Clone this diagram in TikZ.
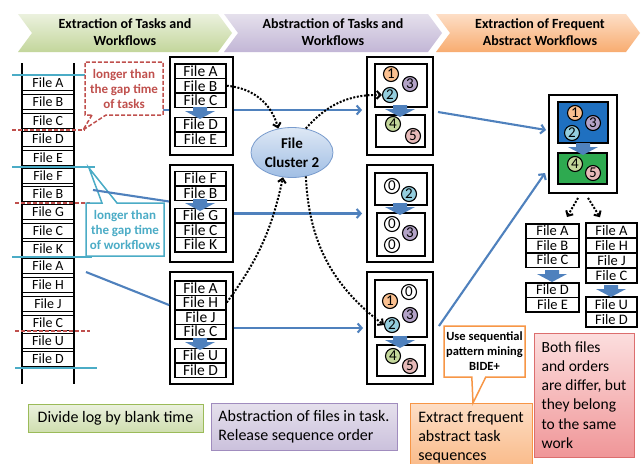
\documentclass[tikz,border=0pt]{standalone}
\usepackage{fontspec}
\setmainfont{Carlito}
\usetikzlibrary{arrows.meta,shapes.geometric,shapes.callouts}
\definecolor{tealc}{RGB}{75,172,198}
\definecolor{redc}{RGB}{192,80,77}
\definecolor{bluec}{RGB}{79,129,189}
\definecolor{orangec}{RGB}{247,150,70}
\definecolor{ballone}{RGB}{250,192,144}
\definecolor{balltwo}{RGB}{147,205,221}
\definecolor{ballthree}{RGB}{179,162,199}
\definecolor{ballfour}{RGB}{195,214,155}
\definecolor{ballfive}{RGB}{230,185,184}
\definecolor{topblue}{RGB}{31,112,192}
\definecolor{botgreen}{RGB}{46,170,80}
\definecolor{chevgt}{RGB}{235,241,222}
\definecolor{chevgb}{RGB}{195,214,155}
\definecolor{chevpt}{RGB}{229,224,236}
\definecolor{chevpb}{RGB}{194,182,214}
\definecolor{chevot}{RGB}{253,222,198}
\definecolor{chevob}{RGB}{248,172,112}
\definecolor{ellt}{RGB}{222,232,245}
\definecolor{ellbot}{RGB}{160,190,228}
\definecolor{ellb}{RGB}{120,155,205}
\definecolor{notegb}{RGB}{155,187,89}
\definecolor{notepb}{RGB}{160,140,190}
\definecolor{noterb}{RGB}{220,110,110}
\begin{document}
\begin{tikzpicture}[x=1pt,y=-1pt,
  logfile/.style={draw, line width=1.5pt, fill=white, minimum width=52pt, minimum height=15pt, inner sep=0pt, font=\fontsize{14}{14}\selectfont},
  grpfile/.style={logfile, minimum width=51pt, minimum height=14.5pt, font=\fontsize{15.5}{15}\selectfont},
  outbox/.style={draw, line width=1.9pt, fill=white, inner sep=0pt},
  inbox/.style={draw, line width=1.6pt, inner sep=0pt},
  ball/.style={circle, draw, line width=1.1pt, minimum size=15pt, inner sep=0pt, font=\fontsize{15}{15}\selectfont},
  wfsep/.style={tealc, line width=2.2pt},
  tasksep/.style={redc, line width=2.2pt, dash pattern=on 4pt off 2pt},
  flow/.style={bluec, line width=2.1pt},
  flowarr/.style={flow, -{Straight Barb[length=4pt,width=9pt]}},
  dotarr/.style={black, line width=2pt, dash pattern=on 2pt off 1.6pt, -{Straight Barb[length=4pt,width=8pt]}},
  headtxt/.style={font=\bfseries\fontsize{14}{17}\selectfont, align=center},
  gapnote/.style={rectangle callout, line width=1.5pt, fill=white, minimum width=78pt, minimum height=53pt, inner sep=0pt, align=center, font=\bfseries\fontsize{13}{15}\selectfont},
  note/.style={draw, line width=0.8pt, align=left, inner sep=0pt, font=\fontsize{16}{19}\selectfont},
  pics/dnarr/.style={code={\fill[bluec] (-7,0) -- (7,0) -- (7,4) -- (15,4) -- (0,12) -- (-15,4) -- (-7,4) -- cycle;}}]
\path[use as bounding box, fill=white] (0,0) rectangle (644,463);

\shade[top color=chevgt, bottom color=chevgb] (18,14) -- (218,14) -- (232,33) -- (218,52) -- (18,52) -- (32,33) -- cycle;
\shade[top color=chevpt, bottom color=chevpb] (224,14) -- (428,14) -- (442,33) -- (428,52) -- (224,52) -- (238,33) -- cycle;
\shade[top color=chevot, bottom color=chevob] (436,14) -- (626,14) -- (640,33) -- (626,52) -- (436,52) -- (450,33) -- cycle;
\node[headtxt] (head1) at (125,32.5){Extraction of Tasks and\\Workflows};
\node[headtxt] (head2) at (333,32.5){Abstraction of Tasks and\\Workflows};
\node[headtxt] (head3) at (540,32.5){Extraction of Frequent\\Abstract Workflows};

\draw[line width=1.5pt] (22,63) -- (22,384);
\draw[line width=1.5pt] (74,63) -- (74,384);
\node[logfile] (log1) at (48,83){File A};
\node[logfile] (log2) at (48,102){File B};
\node[logfile] (log3) at (48,121){File C};
\node[logfile] (log4) at (48,139){File D};
\node[logfile] (log5) at (48,158){File E};
\node[logfile] (log6) at (48,176){File F};
\node[logfile] (log7) at (48,194){File B};
\node[logfile] (log8) at (48,212){File G};
\node[logfile] (log9) at (48,231){File C};
\node[logfile] (log10) at (48,249){File K};
\node[logfile] (log11) at (48,266){File A};
\node[logfile] (log12) at (48,285){File H};
\node[logfile] (log13) at (48,304){File J};
\node[logfile] (log14) at (48,323){File C};
\node[logfile] (log15) at (48,341){File U};
\node[logfile] (log16) at (48,359){File D};
\draw[wfsep] (12,75) -- (85,75);
\draw[wfsep] (12,167) -- (95,167);
\draw[wfsep] (12,257) -- (92,257);
\draw[wfsep] (15,368) -- (97,368);
\draw[tasksep] (12,130) -- (85,130);
\draw[tasksep] (15,203) -- (90,203);
\draw[tasksep] (15,331) -- (90,331);

\node[outbox, minimum width=63pt, minimum height=98pt] (grp1) at (201.5,106){};
\node[grpfile] (grp1a) at (200.5,71.25){File A};
\node[grpfile] (grp1b) at (200.5,85.75){File B};
\node[grpfile] (grp1c) at (200.5,100.25){File C};
\node[grpfile] (grp1d) at (200.5,124.5){File D};
\node[grpfile] (grp1e) at (200.5,139){File E};
\pic at (200,107){dnarr};
\node[outbox, minimum width=63pt, minimum height=97pt] (grp2) at (201.5,213.5){};
\node[grpfile] (grp2a) at (200.5,178.5){File F};
\node[grpfile] (grp2b) at (200.5,193){File B};
\node[grpfile] (grp2c) at (200.5,215.5){File G};
\node[grpfile] (grp2d) at (200.5,230){File C};
\node[grpfile] (grp2e) at (200.5,244.5){File K};
\pic at (200,199){dnarr};
\node[outbox, minimum width=63pt, minimum height=112pt] (grp3) at (201.5,328){};
\node[grpfile] (grp3a) at (200.5,288){File A};
\node[grpfile] (grp3b) at (200.5,302.5){File H};
\node[grpfile] (grp3c) at (200.5,317){File J};
\node[grpfile] (grp3d) at (200.5,331.5){File C};
\node[grpfile] (grp3e) at (200.5,355.5){File U};
\node[grpfile] (grp3f) at (200.5,370){File D};
\pic at (200,338){dnarr};

\node[outbox, minimum width=66pt, minimum height=98pt] (mid1) at (400,106){};
\node[inbox, minimum width=52pt, minimum height=43pt] (mid1t) at (401,85.5){};
\node[inbox, minimum width=49pt, minimum height=32pt] (mid1b) at (400.5,131){};
\pic at (400,105){dnarr};
\node[ball, fill=ballone] (b11) at (391,74){1};
\node[ball, fill=ballthree] (b13) at (410,84){3};
\node[ball, fill=balltwo] (b12) at (390,95){2};
\node[ball, fill=ballfour] (b14) at (393,124){4};
\node[ball, fill=ballfive] (b15) at (413,136){5};
\node[outbox, minimum width=66pt, minimum height=97pt] (mid2) at (400,213.5){};
\node[inbox, minimum width=52pt, minimum height=32pt] (mid2t) at (401,189){};
\node[inbox, minimum width=48pt, minimum height=43pt] (mid2b) at (401,234.5){};
\pic at (400,203){dnarr};
\node[ball, fill=white] (b20) at (392,186){0};
\node[ball, fill=balltwo] (b22) at (409,194){2};
\node[ball, fill=white] (b20b) at (392,224){0};
\node[ball, fill=ballthree] (b23) at (410,233){3};
\node[ball, fill=white] (b20c) at (392,245){0};
\node[outbox, minimum width=66pt, minimum height=112pt] (mid3) at (400,328){};
\node[inbox, minimum width=52pt, minimum height=57pt] (mid3t) at (401,308.5){};
\node[inbox, minimum width=48pt, minimum height=31pt] (mid3b) at (401,360.5){};
\pic at (400,336){dnarr};
\node[ball, fill=white] (b30) at (409,292){0};
\node[ball, fill=ballone] (b31) at (390,301){1};
\node[ball, fill=ballthree] (b33) at (410,315){3};
\node[ball, fill=balltwo] (b32) at (392,325){2};
\node[ball, fill=ballfour] (b34) at (393,356){4};
\node[ball, fill=ballfive] (b35) at (410,366){5};

\node[outbox, minimum width=68pt, minimum height=98pt] (res) at (583,144){};
\node[inbox, fill=topblue, minimum width=50pt, minimum height=41pt] (rest) at (583,122.5){};
\node[inbox, fill=botgreen, minimum width=49pt, minimum height=31pt] (resb) at (582.5,168.5){};
\pic at (583,143){dnarr};
\node[ball, fill=ballone] (r1) at (575,113){1};
\node[ball, fill=ballthree] (r3) at (593,123){3};
\node[ball, fill=balltwo] (r2) at (572,133){2};
\node[ball, fill=ballfour] (r4) at (575,164){4};
\node[ball, fill=ballfive] (r5) at (593,173){5};

\node[grpfile, minimum width=53pt, font=\fontsize{14.5}{15}\selectfont] (lsta) at (552.5,231){File A};
\node[grpfile, minimum width=53pt, font=\fontsize{14.5}{15}\selectfont] (lstb) at (552.5,245.5){File B};
\node[grpfile, minimum width=53pt, font=\fontsize{14.5}{15}\selectfont] (lstc) at (552.5,260){File C};
\node[grpfile, minimum width=53pt, font=\fontsize{14.5}{15}\selectfont] (lstd) at (552.5,290){File D};
\node[grpfile, minimum width=53pt, font=\fontsize{14.5}{15}\selectfont] (lste) at (552.5,304.5){File E};
\pic at (552,270){dnarr};
\node[grpfile, minimum height=15pt, font=\fontsize{14.5}{15}\selectfont] (lsra) at (611.5,230.5){File A};
\node[grpfile, minimum height=15pt, font=\fontsize{14.5}{15}\selectfont] (lsrb) at (611.5,245.5){File H};
\node[grpfile, minimum height=15pt, font=\fontsize{14.5}{15}\selectfont] (lsrc) at (611.5,260.5){File J};
\node[grpfile, minimum height=15pt, font=\fontsize{14.5}{15}\selectfont] (lsrd) at (611.5,275.5){File C};
\node[grpfile, minimum height=15pt, font=\fontsize{14.5}{15}\selectfont] (lsre) at (611.5,304.5){File U};
\node[grpfile, minimum height=15pt, font=\fontsize{14.5}{15}\selectfont] (lsrf) at (611.5,319.5){File D};
\pic at (611,285){dnarr};

\coordinate (cut1) at (86,110);
\coordinate (cut2) at (93,190);
\coordinate (cut3) at (86,272);
\draw[flow] (cut1) -- ([yshift=-4pt]grp1.west);
\draw[flow] (cut3) -- ([yshift=23pt]grp3.west);
\node[gapnote, callout absolute pointer={(83,130)}, callout pointer width=14pt, draw=redc, dash pattern=on 4pt off 2pt, text=redc] (gaptask) at (124,88.5){longer than\\the gap time\\of tasks};
\node[gapnote, callout absolute pointer={(89,168)}, callout pointer width=15pt, draw=tealc, text=tealc] (gapflow) at (125,229.5){longer than\\the gap time\\of workflows};
\draw[flow] (cut2) -- ([yshift=12pt]grp2.west);

\draw[flowarr] ([yshift=-4pt]grp1.east) -- ([yshift=-4pt,xshift=-4pt]mid1.west);
\draw[flowarr] (grp2.east) -- ([xshift=-4pt]mid2.west);
\draw[flowarr] (grp3.east) -- ([xshift=-3pt]mid3.west);
\draw[flowarr] ([xshift=4pt,yshift=-6pt]mid1.east) -- ([xshift=-2pt,yshift=14pt]res.west);
\draw[flowarr] ([xshift=5pt,yshift=2pt]mid3.east) -- ([xshift=-3pt,yshift=-29pt]res.west);

\node[ellipse, draw=ellb, line width=0.8pt, top color=ellt, bottom color=ellbot, minimum width=82pt, minimum height=50pt, inner sep=0pt, align=center, font=\bfseries\fontsize{15}{19}\selectfont] (clu) at (292,152.5){File\\Cluster 2};
\draw[dotarr] (grp1b.east) to[bend left=35] (clu.120);
\draw[dotarr] (grp3b.east) to[bend right=12] (clu.250);
\draw[dotarr] (clu.60) to[bend left=25] (b12.west);
\draw[dotarr] (clu.-60) to[bend right=25] (b32.west);
\draw[dotarr] ([xshift=-5pt,yshift=-4pt]res.south) -- ([xshift=14.5pt,yshift=6pt]lsta.north);
\draw[dotarr] ([xshift=5pt,yshift=-4pt]res.south) -- ([xshift=-11.5pt,yshift=5pt]lsra.north);

\node[note, draw=notegb, top color=chevgt, bottom color=chevgb!80, minimum width=175pt, minimum height=28pt] (divide) at (115.5,418){Divide log by blank time};
\node[note, draw=notepb, top color=chevpt, bottom color=chevpb!85, minimum width=186pt, minimum height=47pt] (abstr) at (304,426.5){Abstraction of files in task.\\Release sequence order};
\node[note, draw=orangec, top color=chevot, bottom color=chevob!85, minimum width=122pt, minimum height=68pt] (freq) at (471,437){Extract frequent\\abstract task\\sequences};
\node[note, draw=noterb, top color={rgb,255:red,252;green,222;blue,222}, bottom color={rgb,255:red,240;green,150;blue,152}, minimum width=100pt, minimum height=124pt, font=\fontsize{15.5}{19.3}\selectfont] (same) at (584,395){Both files\\and orders\\are differ, but\\they belong\\to the same\\work};
\node[rectangle callout, callout absolute pointer={(473,403)}, callout pointer width=14pt, draw=orangec, line width=1.5pt, fill=white, minimum width=81pt, minimum height=51pt, inner sep=0pt, align=center, font=\bfseries\fontsize{12.5}{15}\selectfont] (bide) at (484.5,351.5){Use sequential\\pattern mining\\BIDE+};

\end{tikzpicture}
\end{document}
